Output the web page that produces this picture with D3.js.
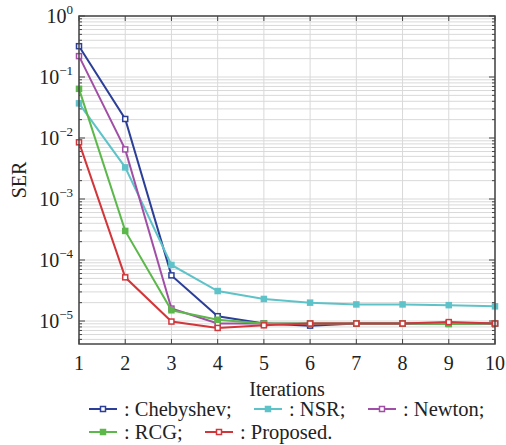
<!DOCTYPE html>
<html lang="en">
<head>
<meta charset="UTF-8" />
<title>SER vs Iterations</title>
<script src="https://d3js.org/d3.v7.min.js"></script>
<style>
  body { margin: 0; background: #fff; }
  svg { display: block; }
  .tick-label { font-size: 20px; fill: #222; }
  .legend-text { font-size: 20.5px; fill: #222; }
</style>
</head>
<body>
<div id="chart"></div>
<script>
const iterations = [1, 2, 3, 4, 5, 6, 7, 8, 9, 10];
const chebyshev = [0.32, 0.0205, 5.6e-5, 1.2e-5, 9.1e-6, 8.4e-6, 9.1e-6, 9.1e-6, 9.1e-6, 9.1e-6];
const nsr = [0.037, 3.3e-3, 8.3e-5, 3.1e-5, 2.3e-5, 2.0e-5, 1.87e-5, 1.87e-5, 1.82e-5, 1.74e-5];
const newton = [0.22, 6.5e-3, 1.6e-5, 9.1e-6, 9.1e-6, 9.1e-6, 9.1e-6, 9.1e-6, 9.1e-6, 9.1e-6];
const rcg = [0.064, 3.0e-4, 1.5e-5, 1.05e-5, 9.1e-6, 9.1e-6, 9.1e-6, 9.1e-6, 8.9e-6, 9.1e-6];
const proposed = [8.5e-3, 5.2e-5, 9.8e-6, 7.7e-6, 8.5e-6, 9.1e-6, 9.1e-6, 9.1e-6, 9.6e-6, 9.1e-6];
const yTickExps = [0, -1, -2, -3, -4, -5];

const series = [
  { name: ': Chebyshev;', values: chebyshev, color: '#2c3f98', filled: false },
  { name: ': NSR;', values: nsr, color: '#5ec3c9', filled: true },
  { name: ': Newton;', values: newton, color: '#a14fa6', filled: false },
  { name: ': RCG;', values: rcg, color: '#5cb84a', filled: true },
  { name: ': Proposed.', values: proposed, color: '#d2363a', filled: false }
];

const width = 506, height = 445;
const margin = { top: 16, right: 11, bottom: 101, left: 79 };
const x0 = margin.left, x1 = width - margin.right;
const y0 = height - margin.bottom, y1 = margin.top;
const serif = 'Liberation Serif, DejaVu Serif, serif';

const svg = d3.select('#chart').append('svg')
  .attr('width', width).attr('height', height);

const x = d3.scaleLinear().domain([1, 10]).range([x0, x1]);
const y = d3.scaleLog().domain([4.2e-6, 1]).range([y0, y1]);

// minor + major log positions
const minorVals = [];
for (let e = -6; e < 0; e++) {
  for (let m = 1; m <= 9; m++) {
    const v = m * Math.pow(10, e);
    if (v >= y.domain()[0] && v <= 1) minorVals.push(v);
  }
}
minorVals.push(1);

const grid = svg.append('g');
grid.selectAll('line.h').data(minorVals).enter().append('line')
  .attr('x1', x0).attr('x2', x1)
  .attr('y1', d => y(d)).attr('y2', d => y(d))
  .attr('stroke', '#d9d9d9').attr('stroke-width', 1);
grid.selectAll('line.v').data(iterations).enter().append('line')
  .attr('x1', d => x(d)).attr('x2', d => x(d))
  .attr('y1', y0).attr('y2', y1)
  .attr('stroke', '#d9d9d9').attr('stroke-width', 1);

// inward ticks
const ticks = svg.append('g').attr('stroke', '#444').attr('stroke-width', 1);
minorVals.forEach(v => {
  const major = Math.abs(Math.log10(v) - Math.round(Math.log10(v))) < 1e-9;
  const len = major ? 6 : 3;
  ticks.append('line').attr('x1', x0).attr('x2', x0 + len).attr('y1', y(v)).attr('y2', y(v));
  ticks.append('line').attr('x1', x1).attr('x2', x1 - len).attr('y1', y(v)).attr('y2', y(v));
});
iterations.forEach(i => {
  ticks.append('line').attr('x1', x(i)).attr('x2', x(i)).attr('y1', y0).attr('y2', y0 - 5);
  ticks.append('line').attr('x1', x(i)).attr('x2', x(i)).attr('y1', y1).attr('y2', y1 + 5);
});

// lines and markers
const line = d3.line().x((d, i) => x(iterations[i])).y(d => y(d));
series.forEach(s => {
  const g = svg.append('g');
  g.append('path').datum(s.values)
    .attr('d', line).attr('fill', 'none')
    .attr('stroke', s.color).attr('stroke-width', 2);
  g.selectAll('rect').data(s.values).enter().append('rect')
    .attr('x', (d, i) => x(iterations[i]) - 2.5)
    .attr('y', d => y(d) - 2.5)
    .attr('width', 5).attr('height', 5)
    .attr('fill', s.filled ? s.color : '#fff')
    .attr('stroke', s.color).attr('stroke-width', 1.5);
});

// frame
svg.append('rect').attr('x', x0).attr('y', y1)
  .attr('width', x1 - x0).attr('height', y0 - y1)
  .attr('fill', 'none').attr('stroke', '#444').attr('stroke-width', 1.5);

// x tick labels
svg.append('g').selectAll('text').data(iterations).enter().append('text')
  .attr('class', 'tick-label').attr('font-family', serif)
  .attr('x', d => x(d)).attr('y', y0 + 26)
  .attr('text-anchor', 'middle')
  .text(d => d);

// y tick labels
const yl = svg.append('g').selectAll('text').data(yTickExps).enter().append('text')
  .attr('class', 'tick-label').attr('font-family', serif)
  .attr('x', x0 - 6).attr('y', d => y(Math.pow(10, d)) + 7)
  .attr('text-anchor', 'end');
yl.append('tspan').text('10');
yl.append('tspan').attr('dy', -9).attr('font-size', 13)
  .text(d => d === 0 ? '0' : '\u2212' + Math.abs(d));

// axis titles
svg.append('text').attr('class', 'tick-label').attr('font-family', serif)
  .attr('x', (x0 + x1) / 2).attr('y', y0 + 52)
  .attr('text-anchor', 'middle').text('Iterations');
svg.append('text').attr('class', 'tick-label').attr('font-family', serif)
  .attr('transform', `translate(26,${(y0 + y1) / 2}) rotate(-90)`)
  .attr('text-anchor', 'middle').text('SER');

// legend
const legendPos = [
  { lx: 89, ly: 409 }, { lx: 254, ly: 409 }, { lx: 368, ly: 409 },
  { lx: 89, ly: 432 }, { lx: 205, ly: 432 }
];
series.forEach((s, i) => {
  const p = legendPos[i];
  const g = svg.append('g').attr('transform', `translate(${p.lx},${p.ly})`);
  g.append('line').attr('x1', 0).attr('x2', 28).attr('y1', 0).attr('y2', 0)
    .attr('stroke', s.color).attr('stroke-width', 2);
  g.append('rect').attr('x', 11.5).attr('y', -2.5).attr('width', 5).attr('height', 5)
    .attr('fill', s.filled ? s.color : '#fff')
    .attr('stroke', s.color).attr('stroke-width', 1.5);
  g.append('text').attr('class', 'legend-text').attr('font-family', serif)
    .attr('x', 35).attr('y', 6.5).text(s.name);
});
</script>
</body>
</html>
